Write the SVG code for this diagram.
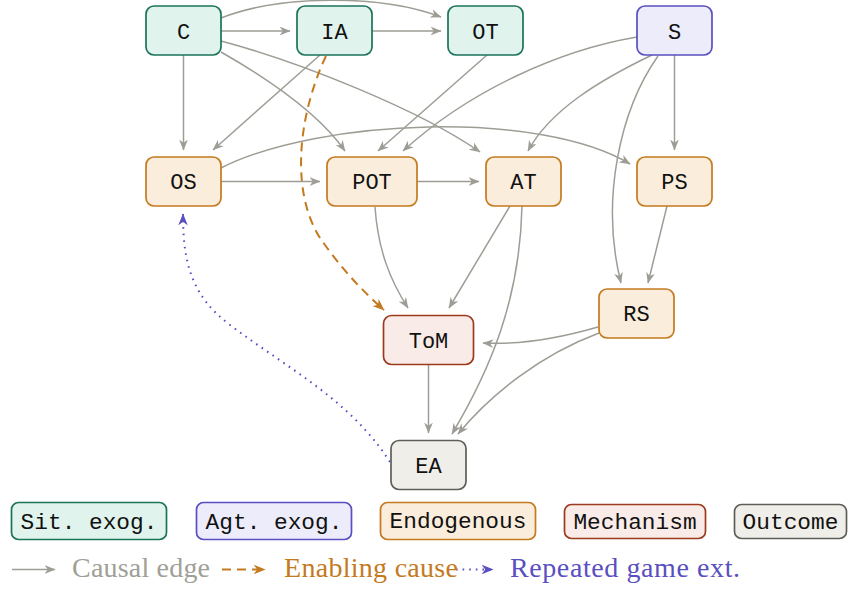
<svg xmlns="http://www.w3.org/2000/svg" width="849" height="590" viewBox="0 0 849 590">
<style>
.n rect{stroke-width:1.7}
.sit rect{fill:#e0f3ec;stroke:#1a735a}
.agt rect{fill:#ececfa;stroke:#5a4fc0}
.end rect{fill:#fbeddb;stroke:#c47a1e}
.mec rect{fill:#f9ebe7;stroke:#9b3a1c}
.out rect{fill:#f0eee8;stroke:#5f5f5a}
.n text{font-family:"Liberation Mono","DejaVu Sans Mono",monospace;font-size:22px;fill:#111;text-anchor:middle}
.e path{fill:none;stroke:#9e9d95;stroke-width:1.5;marker-end:url(#ag)}
.e path.en{stroke:#c47a1e;stroke-width:2;stroke-dasharray:9 6;marker-end:url(#ao)}
.e path.rp{stroke:#5a4fc0;stroke-width:2;stroke-dasharray:1.6 5;marker-end:url(#ab)}
text.lt{font-family:"Liberation Serif","Times New Roman",serif;font-size:28px;text-anchor:start}
</style>
<defs>
<marker id="ag" viewBox="0 0 10 8" refX="9.5" refY="4" markerWidth="11" markerHeight="8.8" markerUnits="userSpaceOnUse" orient="auto"><path d="M0,0 L10,4 L0,8 L3,4 z" fill="#9e9d95"/></marker>
<marker id="ao" viewBox="0 0 10 8" refX="9.5" refY="4" markerWidth="12" markerHeight="9.6" markerUnits="userSpaceOnUse" orient="auto"><path d="M0,0 L10,4 L0,8 L3,4 z" fill="#c47a1e"/></marker>
<marker id="ab" viewBox="0 0 10 8" refX="9.5" refY="4" markerWidth="12" markerHeight="9.6" markerUnits="userSpaceOnUse" orient="auto"><path d="M0,0 L10,4 L0,8 L3,4 z" fill="#5a4fc0"/></marker>
</defs>

<g id="edges" class="e">
<path d="M221,31 L290,31"/>
<path d="M372,31 L441,31"/>
<path d="M221,18 C280,-5 380,-6 441,17"/>
<path d="M183.5,55 L183.5,150"/>
<path d="M221,52 C270,80 320,115 345,151"/>
<path d="M221,41 C300,62 420,110 480,152"/>
<path d="M320,55 L213,150"/>
<path class="en" d="M326,56 C296,120 290,200 325,245 Q350,280 384,310"/>
<path d="M487,55 L378,151"/>
<path d="M637,37 C560,50 470,90 403,151"/>
<path d="M652,55 C600,80 550,110 528,151"/>
<path d="M658,56 C620,110 600,200 621,283"/>
<path d="M674.5,55 L674.5,150"/>
<path d="M221,168 C320,118 540,110 630,164"/>
<path d="M221,181.5 L320,181.5"/>
<path d="M417,181.5 L479,181.5"/>
<path d="M375,207 C378,250 390,280 408,308"/>
<path d="M510,206 L449,308"/>
<path d="M522,206 C520,300 490,370 452,434"/>
<path d="M667,206 L648,283"/>
<path d="M598,327 C560,338 520,345 483,343"/>
<path d="M599,333 C540,355 490,395 458,434"/>
<path d="M428.5,365 L428.5,433"/>
<path class="rp" d="M390,462 C350,400 290,370 230,325 C190,295 183,260 183,214"/>
</g>

<g id="C" class="n sit"><rect x="146" y="6" width="75" height="49" rx="8"/><text x="183.5" y="38.5">C</text></g>
<g id="IA" class="n sit"><rect x="297" y="6" width="75" height="49" rx="8"/><text x="334.5" y="38.5">IA</text></g>
<g id="OT" class="n sit"><rect x="448" y="6" width="75" height="49" rx="8"/><text x="485.5" y="38.5">OT</text></g>
<g id="S" class="n agt"><rect x="637" y="6" width="75" height="49" rx="8"/><text x="674.5" y="38.5">S</text></g>
<g id="OS" class="n end"><rect x="146" y="157" width="75" height="49" rx="8"/><text x="183.5" y="189">OS</text></g>
<g id="POT" class="n end"><rect x="327" y="157" width="90" height="49" rx="8"/><text x="372" y="189">POT</text></g>
<g id="AT" class="n end"><rect x="486" y="157" width="75" height="49" rx="8"/><text x="523.5" y="189">AT</text></g>
<g id="PS" class="n end"><rect x="637" y="157" width="75" height="49" rx="8"/><text x="674.5" y="189">PS</text></g>
<g id="RS" class="n end"><rect x="599" y="289" width="75" height="49" rx="8"/><text x="636.5" y="321">RS</text></g>
<g id="ToM" class="n mec"><rect x="383.5" y="315.5" width="90" height="49" rx="8"/><text x="428.5" y="347.5">ToM</text></g>
<g id="EA" class="n out"><rect x="391" y="440.5" width="75" height="49" rx="8"/><text x="428.5" y="472.5">EA</text></g>

<g id="legend">
<g class="n sit"><rect x="11.5" y="502.5" width="155" height="37" rx="7"/><text x="89" y="528.5" style="font-size:22.8px">Sit. exog.</text></g>
<g class="n agt"><rect x="196.5" y="502.5" width="155" height="37" rx="7"/><text x="274" y="528.5" style="font-size:22.8px">Agt. exog.</text></g>
<g class="n end"><rect x="380.5" y="502.5" width="155" height="37" rx="7"/><text x="458" y="528" style="font-size:22.8px">Endogenous</text></g>
<g class="n mec"><rect x="564.5" y="504.5" width="141" height="34" rx="7"/><text x="635" y="529" style="font-size:22.8px">Mechanism</text></g>
<g class="n out"><rect x="734.5" y="504.5" width="112" height="34" rx="7"/><text x="790.5" y="529" style="font-size:22.8px">Outcome</text></g>
<g class="e">
<path d="M12,569.5 L55,569.5"/>
<path class="en" d="M222,569.5 L265,569.5"/>
<path class="rp" d="M456,569.5 L493,569.5"/>
</g>
<text class="lt" x="72" y="577" fill="#a09f97" textLength="138">Causal edge</text>
<text class="lt" x="284" y="577" fill="#c47a1e" textLength="174">Enabling cause</text>
<text class="lt" x="510" y="577" fill="#5a4fc0" textLength="230">Repeated game ext.</text>
</g>
</svg>
